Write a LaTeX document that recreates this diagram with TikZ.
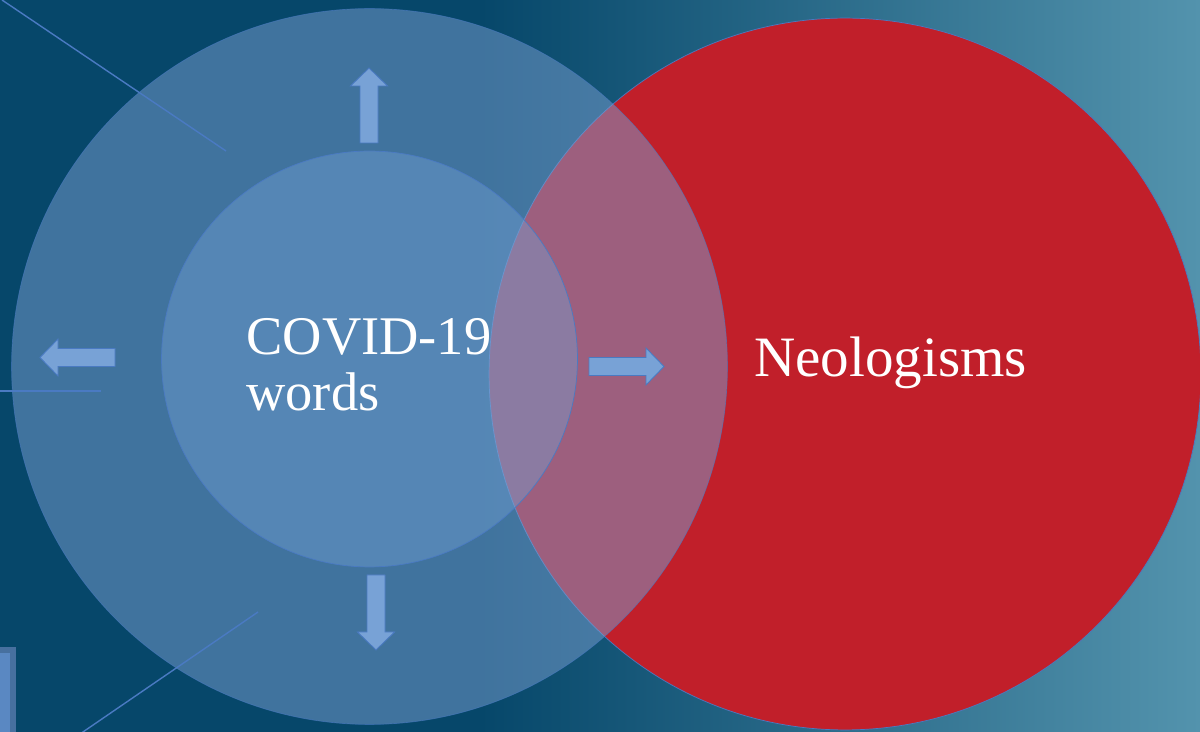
\documentclass[tikz,border=0pt]{standalone}
\usepackage{fontspec}
\setmainfont{Liberation Serif}
\usetikzlibrary{positioning}

\definecolor{bgDark}{HTML}{06476A}
\definecolor{bgLight}{HTML}{5393AD}
\definecolor{ringBlue}{HTML}{7AA0D2}
\definecolor{innerBlue}{HTML}{74A2D6}
\definecolor{neoRed}{HTML}{C11F2A}
\definecolor{edgeBlue}{HTML}{4A7AC2}
\definecolor{arrowFill}{HTML}{78A2D6}
\definecolor{barFill}{HTML}{5A88C2}
\definecolor{barEdge}{HTML}{47709F}

\begin{document}
\begin{tikzpicture}[x=0.02cm, y=0.02cm,
    every node/.style={font=\fontsize{31}{31.75}\selectfont, text=white},
    bigcircle/.style={circle, draw=edgeBlue, line width=0.4pt, inner sep=0pt},
    deco/.style={draw=edgeBlue, line width=0.8pt},
    blockarr/.pic={\draw[fill=arrowFill, draw=edgeBlue, line width=0.5pt]
        (0,-9) -- (57,-9) -- (57,-18.5) -- (75,0) -- (57,18.5) -- (57,9) -- (0,9) -- cycle;}]
      % Hintergrund
      \useasboundingbox (0,0) rectangle (1200,-732);
      \clip (0,0) rectangle (1200,-732);
      \fill[bgDark] (0,0) rectangle (481,-732);
      \shade[left color=bgDark, right color=bgLight] (480,0) rectangle (1200,-732);

      % Kreise
      \node[bigcircle, fill=neoRed, minimum size=14.24cm] (neocircle) at (845,-374) {};
      \node[bigcircle, fill=ringBlue, fill opacity=0.5, draw opacity=0.6, minimum size=14.32cm] (outer) at (369.5,-366.5) {};
      \node[bigcircle, fill=innerBlue, fill opacity=0.42, minimum size=8.32cm] (inner) at (369.5,-359) {};

      % Linien und Balken
      \draw[deco] (2,0) -- (226,-151);
      \draw[deco] (0,-391) -- (101,-391);
      \draw[deco] (258,-612) -- (80,-734);
      \draw[line width=3pt, draw=barEdge, fill=barFill] (-10,-650) rectangle (13,-745);

      % Pfeile
      \pic at (589,-366.5) {blockarr};
      \pic[rotate=90] at (369,-143) {blockarr};
      \pic[rotate=180] at (115,-357.5) {blockarr};
      \pic[rotate=-90] at (376,-575) {blockarr};

      % Texte
      \node[anchor=west, align=left, inner sep=0pt] (covid) at (246,-365) {COVID-19\\words};
      \node[anchor=base west, inner sep=0pt, font=\fontsize{32.5}{34}\selectfont] (neo) at (754,-377) {Neologisms};
\end{tikzpicture}
\end{document}
